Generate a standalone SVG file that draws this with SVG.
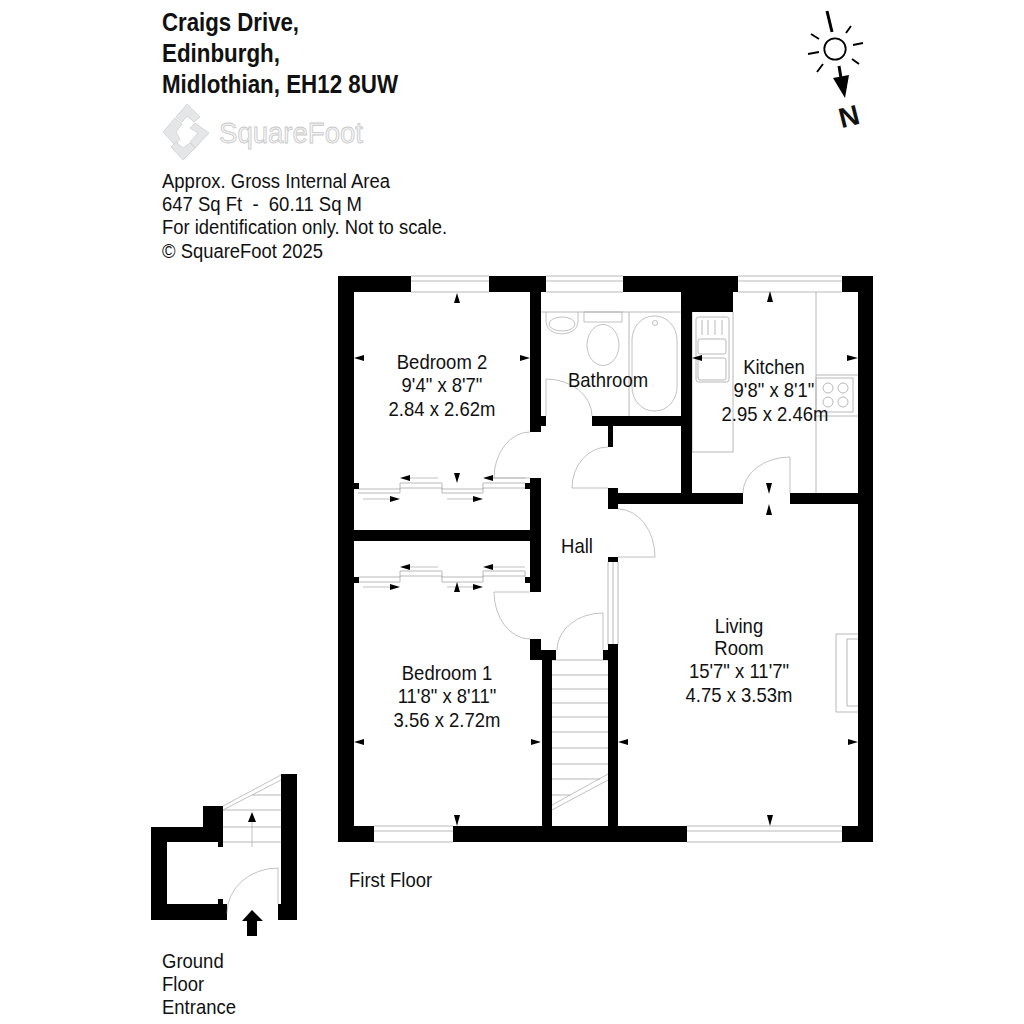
<svg xmlns="http://www.w3.org/2000/svg" width="1024" height="1024" viewBox="0 0 1024 1024">
<style>
text{font-family:"Liberation Sans",Arial,sans-serif;fill:#111}
.t{font-size:20px}
.c{font-size:20px;text-anchor:middle}
.h{font-size:26px;font-weight:bold}
.w{fill:#000;stroke:none}
.l{fill:none;stroke:#b0b0b0;stroke-width:.9}
.d{fill:none;stroke:#a8a8a8;stroke-width:.7}
.a{fill:#000;stroke:none}
.logo{fill:#e4e6e8;stroke:#c4c4c4;stroke-width:.6}
</style>
<rect width="1024" height="1024" fill="#fff"/>
<g id="title">
<text class="h" x="162" y="31" textLength="137" lengthAdjust="spacingAndGlyphs">Craigs Drive,</text>
<text class="h" x="162" y="62" textLength="118" lengthAdjust="spacingAndGlyphs">Edinburgh,</text>
<text class="h" x="162" y="93" textLength="236" lengthAdjust="spacingAndGlyphs">Midlothian, EH12 8UW</text>
</g>
<g id="logo">
<polygon class="logo" points="187,104 200,117 194,122 187,116 182,122 176,117"/>
<polygon class="logo" points="175,118 182,124 176,132 180,139 175,145 163,132"/>
<polygon class="logo" points="195,123 209,133 195,148 190,142 198,133 190,128"/>
<polygon class="logo" points="176,142 183,148 190,143 195,148 183,160 171,147"/>
<text x="219" y="143" font-size="29" textLength="144" lengthAdjust="spacingAndGlyphs" style="fill:#f4f4f4;stroke:#c8c8c8;stroke-width:.8">SquareFoot</text>
</g>
<g id="info">
<text class="t" x="162" y="188" textLength="228" lengthAdjust="spacingAndGlyphs">Approx. Gross Internal Area</text>
<text class="t" x="162" y="211" xml:space="preserve" textLength="200" lengthAdjust="spacingAndGlyphs">647 Sq Ft  -  60.11 Sq M</text>
<text class="t" x="162" y="234" textLength="285" lengthAdjust="spacingAndGlyphs">For identification only. Not to scale.</text>
<text class="t" x="162" y="258" textLength="161" lengthAdjust="spacingAndGlyphs">© SquareFoot 2025</text>
</g>
<g id="compass">
<circle cx="835" cy="49" r="10.7" fill="none" stroke="#000" stroke-width="1.8"/>
<path d="M827 11L832 32" stroke="#000" stroke-width="3" fill="none"/>
<path d="M846 33L851 26M853 45L863 43M852 59L859 64M823 64L817 72M819 52L808 54M819 39L811 34" stroke="#000" stroke-width="1.9" fill="none"/>
<path d="M839 66L841 78" stroke="#000" stroke-width="3" fill="none"/>
<polygon class="a" points="833,78 849,75 845,98"/>
<text x="849" y="126" font-size="28" font-weight="bold" text-anchor="middle" transform="rotate(-14 849 116)">N</text>
</g>
<g id="first-floor-fixtures">
<path class="l" d="M692 312V452H733V312M816 292V493M816 375H858M816 416H858"/>
<rect class="l" x="816" y="378" width="37" height="34"/>
<circle class="l" cx="828" cy="388" r="5"/><circle class="l" cx="843" cy="388" r="5"/><circle class="l" cx="828" cy="402" r="5"/><circle class="l" cx="843" cy="402" r="5"/>
<rect class="l" x="696" y="317" width="33" height="65" rx="2.5"/>
<rect class="l" x="698" y="339" width="28" height="15" rx="2"/>
<rect class="l" x="698" y="358" width="28" height="22" rx="2"/>
<path class="l" d="M702 320V335M708 320V335M715 320V335M722 320V335"/>
<path class="l" d="M541 312H681M629 312V416"/>
<path class="d" d="M546 312V322Q547 333 562 334Q577 333 578 322V312"/>
<ellipse class="d" cx="562" cy="324" rx="13" ry="7"/>
<rect class="d" x="584" y="312" width="38" height="10"/>
<ellipse class="d" cx="603" cy="345" rx="16" ry="20.5"/>
<rect class="d" x="632" y="316" width="45" height="95" rx="22" ry="24"/>
<circle class="d" cx="655" cy="323" r="2.5"/>
<path class="l" d="M858 634H836V712H858M858 639H847V706H858"/>
<path class="l" d="M552 660H608M552 675H608M552 689H608M552 703H608M552 717H608M552 732H608M552 748H608M552 764H608M552 779H600M552 795H570"/>
<path class="d" d="M552 805L608 774M552 810L608 780"/>
<path class="l" d="M608 562V645M613 562V645M618 562V645"/>
</g>
<g id="connectors">
<path class="d" d="M530 432A36 46 0 0 0 494 478H530"/>
<path class="d" d="M546 416V379A46 37 0 0 1 592 416"/>
<path class="d" d="M608 447A36 41 0 0 0 572 488H608"/>
<path class="d" d="M790 493V457A47 36 0 0 0 743 493"/>
<path class="d" d="M618 509A37 48 0 0 1 655 557H618"/>
<path class="d" d="M494 592H530M494 592A36 47 0 0 0 530 639"/>
<path class="d" d="M603 650V613A46 37 0 0 0 557 650"/>
<path class="l" d="M358 489H400V483H442V489H483V483H525M358 493H400V488H442V493H483V488H525"/>
<path class="l" d="M359 577H400V571H442V577H483V571H525V577M359 582H400V576H442V582H483V576H525"/>
<path class="d" d="M410 478H438M493 478H525M363 499H392M447 499H475M410 567H438M493 567H525M363 587H392M447 587H475"/>
</g>
<g id="walls" class="w">
<rect x="338" y="276" width="73" height="16"/><rect x="489" y="276" width="57" height="16"/><rect x="623" y="276" width="115" height="16"/><rect x="842" y="276" width="31" height="16"/>
<rect x="338" y="276" width="16" height="566"/><rect x="858" y="276" width="15" height="566"/>
<rect x="338" y="826" width="36" height="16"/><rect x="453" y="826" width="234" height="16"/><rect x="842" y="826" width="31" height="16"/>
<rect x="530" y="276" width="11" height="156"/><rect x="541" y="416" width="5" height="10"/>
<rect x="592" y="416" width="89" height="10"/><rect x="681" y="276" width="11" height="228"/><rect x="681" y="276" width="52" height="36"/>
<rect x="608" y="426" width="5" height="21"/>
<rect x="608" y="493" width="135" height="11"/><rect x="790" y="493" width="68" height="11"/><rect x="608" y="488" width="10" height="21"/>
<rect x="354" y="530" width="176" height="11"/><rect x="530" y="478" width="11" height="114"/>
<rect x="530" y="639" width="11" height="21"/><rect x="541" y="650" width="15" height="10"/><rect x="542" y="650" width="10" height="176"/>
<rect x="603" y="650" width="5" height="10"/><rect x="608" y="644" width="10" height="182"/><rect x="608" y="557" width="10" height="5"/>
<rect x="354" y="483" width="5" height="6"/><rect x="525" y="483" width="5" height="6"/>
<rect x="354" y="577" width="5" height="6"/><rect x="525" y="577" width="5" height="6"/>
</g>
<g id="windows">
<path class="l" d="M411 276H489M411 281H489M411 292H489M546 276H623M546 281H623M546 292H623M738 276H842M738 281H842M738 292H842M374 826H453M374 831H453M374 842H453M687 826H842M687 831H842M687 842H842"/>
</g>
<g id="dimension-arrows">
<polygon class="a" points="457,293 454,303 460,303"/>
<polygon class="a" points="354,358 364,355 364,361"/>
<polygon class="a" points="530,358 520,355 520,361"/>
<polygon class="a" points="457,483 454,473 460,473"/>
<polygon class="a" points="400,478 410,475 410,481"/><polygon class="a" points="483,478 493,475 493,481"/>
<polygon class="a" points="400,499 390,496 390,502"/><polygon class="a" points="483,499 473,496 473,502"/>
<polygon class="a" points="400,567 410,564 410,570"/><polygon class="a" points="483,567 493,564 493,570"/>
<polygon class="a" points="400,587 390,584 390,590"/><polygon class="a" points="483,587 473,584 473,590"/>
<polygon class="a" points="457,582 454,592 460,592"/>
<polygon class="a" points="354,742 364,739 364,745"/>
<polygon class="a" points="541,742 531,739 531,745"/>
<polygon class="a" points="457,826 454,815 460,815"/>
<polygon class="a" points="618,742 628,739 628,745"/>
<polygon class="a" points="858,742 848,739 848,745"/>
<polygon class="a" points="770,826 767,815 773,815"/>
<polygon class="a" points="770,291 767,302 773,302"/>
<polygon class="a" points="692,358 702,355 702,361"/>
<polygon class="a" points="858,358 847,355 847,361"/>
<polygon class="a" points="769,494 766,483 772,483"/>
<polygon class="a" points="769,504 766,515 772,515"/>
</g>
<g id="bedroom-2"><text class="c" transform="translate(442 369) scale(.925 1)">Bedroom 2</text><text class="c" transform="translate(442 392) scale(.925 1)">9'4" x 8'7"</text><text class="c" transform="translate(442 416) scale(.925 1)">2.84 x 2.62m</text></g>
<g id="bathroom"><text class="c" transform="translate(608 387) scale(.925 1)">Bathroom</text></g>
<g id="kitchen"><text class="c" transform="translate(774 374) scale(.925 1)">Kitchen</text><text class="c" transform="translate(774 397) scale(.925 1)">9'8" x 8'1"</text><text class="c" transform="translate(775 421) scale(.925 1)">2.95 x 2.46m</text></g>
<g id="hall"><text class="c" transform="translate(577 553) scale(.925 1)">Hall</text></g>
<g id="living-room"><text class="c" transform="translate(739 633) scale(.925 1)">Living</text><text class="c" transform="translate(739 655) scale(.925 1)">Room</text><text class="c" transform="translate(739 678) scale(.925 1)">15'7" x 11'7"</text><text class="c" transform="translate(739 702) scale(.925 1)">4.75 x 3.53m</text></g>
<g id="bedroom-1"><text class="c" transform="translate(447 680) scale(.925 1)">Bedroom 1</text><text class="c" transform="translate(447 703) scale(.925 1)">11'8" x 8'11"</text><text class="c" transform="translate(447 727) scale(.925 1)">3.56 x 2.72m</text></g>
<g id="first-floor-label"><text class="t" transform="translate(349 887) scale(.925 1)">First Floor</text></g>
<g id="ground-floor">
<path class="w" d="M281 774H297V920H278V904H281ZM151 827H203V806H223V847H218V842H167V904H218V899H223V904H227V920H151Z"/>
<path class="l" d="M252 795H281M223 810H281M223 827H281M223 842H281"/>
<path class="d" d="M223 806L281 775M223 810L281 780M252 822V847"/>
<polygon class="a" points="252,812 248,822 256,822"/>
<path class="d" d="M278 904V868A51 45 0 0 0 227 913"/>
<polygon class="a" points="252,910 263,921 257,921 257,936 247,936 247,921 242,921"/>
<text class="t" transform="translate(162 968) scale(.925 1)">Ground</text><text class="t" transform="translate(162 991) scale(.925 1)">Floor</text><text class="t" transform="translate(162 1014) scale(.925 1)">Entrance</text>
</g>
</svg>
